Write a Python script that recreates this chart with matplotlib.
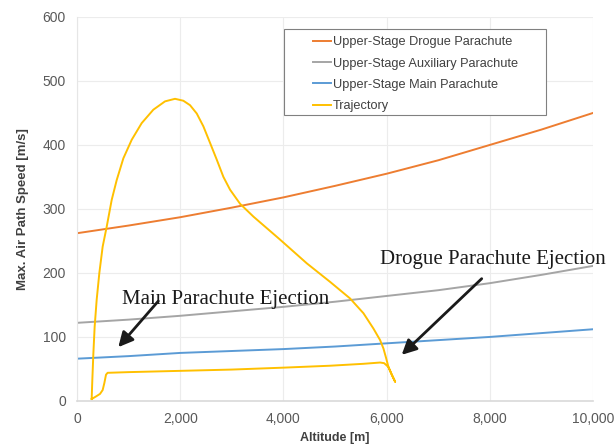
import matplotlib
matplotlib.use("Agg")
import matplotlib.pyplot as plt
from matplotlib.patches import Rectangle
from matplotlib.ticker import FuncFormatter, MultipleLocator

# altitude grid for the parachute limits [m]
alt = [0, 1000, 2000, 3000, 4000, 5000, 6000, 7000, 8000, 9000, 10000]
drogue = [262, 274, 287, 302, 318, 336, 355, 376, 400, 424, 450]
auxiliary = [122, 127, 133, 140, 147, 155, 164, 173, 184, 197, 211]
main = [66, 70, 75, 78, 81, 85, 90, 95, 100, 106, 112]

# flight trajectory: ascent up to apogee, then descent back to the ground
traj_alt = [284, 297, 317, 342, 381, 433, 497, 575, 672, 769, 898, 1060, 1253,
            1479, 1705, 1899, 2060, 2190, 2320, 2448, 2578, 2707, 2836, 2965,
            3159, 3417, 3934, 4451, 4903, 5291, 5549, 5743, 5872, 5936, 5988,
            6033, 6098, 6163,
            6098, 6033, 5950, 5872, 5549, 4903, 4000, 3000, 2000, 1000, 620,
            594, 562, 530, 497, 446, 368, 284]
traj_speed = [3, 33, 74, 116, 158, 200, 241, 272, 314, 345, 379, 408, 434,
              455, 468, 472, 469, 462, 449, 429, 403, 377, 350, 330,
              308, 288, 252, 215, 186, 160, 137, 113, 95, 82, 67,
              53, 41, 30,
              41, 53, 59, 60, 58, 55, 52, 49, 47, 45, 44,
              44, 41, 28, 17, 11, 7, 3]

labels = ["Upper-Stage Drogue Parachute", "Upper-Stage Auxiliary Parachute",
          "Upper-Stage Main Parachute", "Trajectory"]
colors = ["#ED7D31", "#A5A5A5", "#5B9BD5", "#FFC000"]

fig = plt.figure(figsize=(6.16, 4.44), dpi=100)
ax = fig.add_axes([0.125, 0.097, 0.838, 0.865])

ax.plot(alt, drogue, color=colors[0], lw=1.4, label=labels[0])
ax.plot(alt, auxiliary, color=colors[1], lw=1.4, label=labels[1])
ax.plot(alt, main, color=colors[2], lw=1.4, label=labels[2])
ax.plot(traj_alt, traj_speed, color=colors[3], lw=1.4, label=labels[3])

ax.set_xlim(0, 10000)
ax.set_ylim(0, 600)
ax.xaxis.set_major_locator(MultipleLocator(2000))
ax.yaxis.set_major_locator(MultipleLocator(100))
ax.xaxis.set_major_formatter(FuncFormatter(lambda v, p: f"{int(v):,}"))
ax.grid(True, color="#ececec", lw=0.8)
ax.set_axisbelow(True)
ax.tick_params(length=0, labelsize=10, labelcolor="#595959", pad=8)
for lab in ax.get_xticklabels() + ax.get_yticklabels():
    lab.set_family("Liberation Sans")
for s in ["top", "right"]:
    ax.spines[s].set_visible(False)
ax.spines["left"].set_color("#e6e6e6")
ax.spines["bottom"].set_color("#d9d9d9")
ax.spines["bottom"].set_linewidth(1.2)

ax.set_xlabel("Altitude [m]", fontsize=9, fontweight="bold", color="#404040",
              family="Liberation Sans", labelpad=4)
ax.set_ylabel("Max. Air Path Speed [m/s]", fontsize=9.5, fontweight="bold",
              color="#404040", family="Liberation Sans", labelpad=10)

# legend frame drawn separately to get the wide left margin of the original
ax.add_patch(Rectangle((0.401, 0.745), 0.508, 0.224, transform=ax.transAxes,
                       facecolor="white", edgecolor="#808080", lw=0.8,
                       zorder=4))
leg = ax.legend(loc="upper left", bbox_to_anchor=(0.458, 0.949), frameon=False,
                handlelength=1.4, handletextpad=0.15, borderpad=0,
                borderaxespad=0, labelspacing=0.72,
                prop={"family": "Liberation Sans", "size": 9.2})
leg.set_zorder(5)
for t in leg.get_texts():
    t.set_color("#404040")

arrow = dict(arrowstyle="-|>", lw=2, mutation_scale=22, color="#1a1a1a",
             shrinkA=0, shrinkB=0)
ax.annotate("", xy=(800, 84), xytext=(1575, 156), arrowprops=arrow)
ax.annotate("", xy=(6290, 72), xytext=(7840, 191), arrowprops=arrow)
ax.text(872, 159, "Main Parachute Ejection", fontsize=15,
        family="Liberation Serif", color="#1a1a1a", va="center")
ax.text(5872, 221, "Drogue Parachute Ejection", fontsize=15,
        family="Liberation Serif", color="#1a1a1a", va="center", clip_on=False)

fig.savefig("out.png", dpi=100)
